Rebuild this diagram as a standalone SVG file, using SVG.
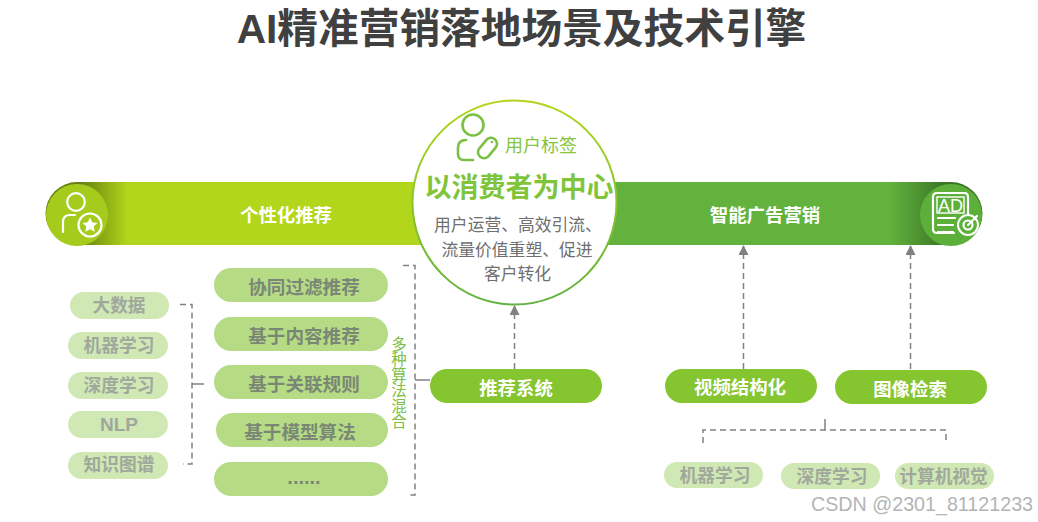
<svg xmlns="http://www.w3.org/2000/svg" width="1038" height="522" viewBox="0 0 1038 522">
<style>
text{font-family:"Noto Sans CJK SC","Liberation Sans",sans-serif;text-anchor:middle}
.big{fill:#b5dc85}.small{fill:#cfe8b4}.dark{fill:#85c52f}
.t1{font-size:18.600px;font-weight:700;fill:#7b8775}
.t2{font-size:17.700px;font-weight:700;fill:#a0a89d}
.t3{font-size:18.400px;font-weight:700;fill:#fff}
.body{font-size:16.800px;fill:#6f6f6f}
.dash{fill:none;stroke:#808080;stroke-width:1.500;stroke-dasharray:6 4}
.solid{fill:none;stroke:#808080;stroke-width:1.500}
.icon{fill:none;stroke:#fff;stroke-width:2.200;stroke-linecap:round;stroke-linejoin:round}
.gicon{fill:none;stroke:#7cc044;stroke-width:2.600;stroke-linecap:round;stroke-linejoin:round}
</style>
<defs>
<linearGradient id="gl" gradientUnits="userSpaceOnUse" x1="80" x2="128" y1="0" y2="0"><stop offset="0" stop-color="#66800f"/><stop offset="1" stop-color="#b2d61b"/></linearGradient>
<linearGradient id="gr" gradientUnits="userSpaceOnUse" x1="890" x2="945" y1="0" y2="0"><stop offset="0" stop-color="#62b23d"/><stop offset="1" stop-color="#3a7525"/></linearGradient>
<linearGradient id="ring" x1="0" x2="0" y1="0" y2="1"><stop offset="0" stop-color="#b2d61b"/><stop offset="1" stop-color="#62b23d"/></linearGradient>
<marker id="arr" viewBox="0 0 10 10" refX="9" refY="5" markerWidth="10" markerHeight="10" markerUnits="userSpaceOnUse" orient="auto"><path d="M0 0L10 5L0 10Z" fill="#808080"/></marker>
</defs>
<rect width="1038" height="522" fill="#fff"/>
<text id="title" x="521.500" y="43" style="font-family:'Liberation Sans','Noto Sans CJK SC',sans-serif;font-size:40.700px;font-weight:700;fill:#404040">AI精准营销落地场景及技术引擎</text>

<g id="bar-left">
<path d="M77 182H425V245H77A31.500 31.500 0 0 1 77 182Z" fill="url(#gl)"/>
<circle cx="77" cy="215" r="31" fill="#a5cc1d"/>
<circle class="icon" cx="76" cy="202" r="8.800"/>
<path class="icon" d="M63 232V222Q63 215 70 215H75"/>
<circle class="icon" cx="90" cy="225" r="11.500"/>
<path d="M90 217.500l2.300 4.800 5.200.7-3.800 3.600 1 5.200-4.700-2.500-4.700 2.500 1-5.200-3.800-3.600 5.200-.7z" fill="#fff"/>
<text class="t3" x="286" y="222">个性化推荐</text>
</g>

<g id="bar-right">
<path d="M605 182H951A31.500 31.500 0 0 1 951 245H605Z" fill="url(#gr)"/>
<circle cx="951" cy="215" r="31" fill="#5cb03a"/>
<path class="icon" d="M968 216V197Q968 193 964 193H937Q933 193 933 197V229Q933 233 937 233H954"/>
<rect x="937" y="197" width="27" height="16" fill="none" stroke="#fff" stroke-width="1.400"/>
<text x="950.500" y="211.500" style="font-family:'Liberation Sans',sans-serif;font-size:18px;fill:#fff">AD</text>
<path class="icon" d="M938 218H955M938 225H953M938 232H953"/>
<circle cx="968" cy="225" r="10" fill="#5cb03a" stroke="#fff" stroke-width="2"/>
<circle class="icon" cx="968" cy="225" r="4.500"/>
<path class="icon" d="M968 225L977 216"/>
<text class="t3" x="765" y="222">智能广告营销</text>
</g>

<g id="center">
<circle cx="514.500" cy="202.500" r="102" fill="#fff" stroke="url(#ring)" stroke-width="2"/>
<circle class="gicon" cx="473" cy="125" r="10.500"/>
<path class="gicon" d="M473 160H464Q458 160 458 154V148Q458 140 466 140"/>
<rect class="gicon" x="476" y="142" width="23" height="12" rx="6" transform="rotate(-50 487.500 148)"/>
<circle cx="492" cy="142" r="1.300" fill="#7cc044"/>
<text x="541" y="152" style="font-size:18px;fill:#86c440">用户标签</text>
<text x="519" y="197" style="font-size:27px;font-weight:700;fill:#80c43a">以消费者为中心</text>
<text class="body" x="518" y="231">用户运营、高效引流、</text>
<text class="body" x="517" y="256">流量价值重塑、促进</text>
<text class="body" x="517.500" y="280">客户转化</text>
</g>

<g id="n-cf"><rect class="big" x="214" y="268" width="174" height="34" rx="17"/><text class="t1" x="304" y="294">协同过滤推荐</text></g>
<g id="n-content"><rect class="big" x="214" y="317" width="174" height="34" rx="17"/><text class="t1" x="304" y="343">基于内容推荐</text></g>
<g id="n-assoc"><rect class="big" x="214" y="365" width="174" height="34" rx="17"/><text class="t1" x="304" y="391">基于关联规则</text></g>
<g id="n-model"><rect class="big" x="216" y="413" width="172" height="34" rx="17"/><text class="t1" x="300" y="439">基于模型算法</text></g>
<g id="n-more"><rect class="big" x="214" y="462" width="174" height="34" rx="17"/><text class="t1" x="304" y="484" style="font-family:'Liberation Sans',sans-serif;font-size:20px">......</text></g>

<g id="s-bigdata"><rect class="small" x="70" y="292" width="99" height="27" rx="13.500"/><text class="t2" x="119" y="312">大数据</text></g>
<g id="s-ml"><rect class="small" x="68" y="332" width="100" height="27" rx="13.500"/><text class="t2" x="119" y="352">机器学习</text></g>
<g id="s-dl"><rect class="small" x="68" y="372" width="100" height="27" rx="13.500"/><text class="t2" x="119" y="392">深度学习</text></g>
<g id="s-nlp"><rect class="small" x="68" y="411" width="100" height="27" rx="13.500"/><text class="t2" x="119" y="431" style="font-family:'Liberation Sans',sans-serif;font-size:19px">NLP</text></g>
<g id="s-kg"><rect class="small" x="68" y="452" width="100" height="27" rx="13.500"/><text class="t2" x="119" y="471">知识图谱</text></g>

<text id="vlabel" x="399" y="336" style="font-size:15.500px;fill:#7cc044;writing-mode:vertical-rl;text-anchor:start">多种算法混合</text>

<g id="n-rec"><rect class="dark" x="430" y="369" width="172" height="34" rx="17"/><text class="t3" x="516" y="395">推荐系统</text></g>
<g id="n-video"><rect class="dark" x="665" y="369" width="152" height="34" rx="17"/><text class="t3" x="740" y="394">视频结构化</text></g>
<g id="n-image"><rect class="dark" x="835" y="370" width="152" height="34" rx="17"/><text class="t3" x="910" y="396">图像检索</text></g>

<g id="s-ml2"><rect class="small" x="664" y="462" width="99" height="26" rx="13"/><text class="t2" x="715" y="482">机器学习</text></g>
<g id="s-dl2"><rect class="small" x="781" y="463" width="99" height="26" rx="13"/><text class="t2" x="832" y="483">深度学习</text></g>
<g id="s-cv"><rect class="small" x="895" y="463" width="99" height="26" rx="13"/><text class="t2" x="943.500" y="483">计算机视觉</text></g>

<g id="connectors">
<path class="dash" d="M180 304.500H192V464H183"/>
<path class="solid" d="M192 384H204"/>
<path class="dash" d="M403 265.500H415V495H407"/>
<path class="solid" d="M415 380H430"/>
<path class="dash" d="M703 443V430H946V443"/>
<path class="solid" d="M825 419V430"/>
<path class="dash" d="M514.500 369V306" marker-end="url(#arr)"/>
<path class="dash" d="M743.500 369V246" marker-end="url(#arr)"/>
<path class="dash" d="M910.500 369V246" marker-end="url(#arr)"/>
</g>

<text id="watermark" x="922" y="511" style="font-family:'Liberation Sans',sans-serif;font-size:19.700px;fill:#b4b4b4">CSDN @2301_81121233</text>
</svg>
